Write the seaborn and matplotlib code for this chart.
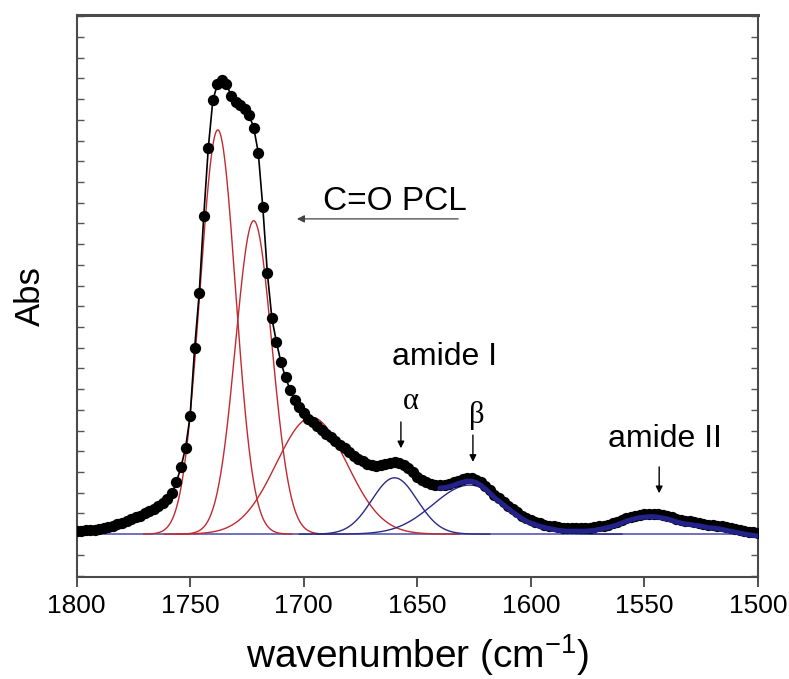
import numpy as np
import pandas as pd
import matplotlib
matplotlib.use("Agg")
import matplotlib.pyplot as plt
import matplotlib.transforms as mtransforms
from matplotlib.ticker import MultipleLocator, NullFormatter
import seaborn as sns

wavenumber = [
    1800, 1798, 1796, 1794, 1792, 1790, 1788, 1786, 1784, 1782,
    1780, 1778, 1776, 1774, 1772, 1770, 1768, 1766, 1764, 1762,
    1760, 1758, 1756, 1754, 1752, 1750, 1748, 1746, 1744, 1742,
    1740, 1738, 1736, 1734, 1732, 1730, 1728, 1726, 1724, 1722,
    1720, 1718, 1716, 1714, 1712, 1710, 1708, 1706, 1704, 1702,
    1700, 1698, 1696, 1694, 1692, 1690, 1688, 1686, 1684, 1682,
    1680, 1678, 1676, 1674, 1672, 1670, 1668, 1666, 1664, 1662,
    1660, 1658, 1656, 1654, 1652, 1650, 1648, 1646, 1644, 1642,
    1640, 1638, 1636, 1634, 1632, 1630, 1628, 1626, 1624, 1622,
    1620, 1618, 1616, 1614, 1612, 1610, 1608, 1606, 1604, 1602,
    1600, 1598, 1596, 1594, 1592, 1590, 1588, 1586, 1584, 1582,
    1580, 1578, 1576, 1574, 1572, 1570, 1568, 1566, 1564, 1562,
    1560, 1558, 1556, 1554, 1552, 1550, 1548, 1546, 1544, 1542,
    1540, 1538, 1536, 1534, 1532, 1530, 1528, 1526, 1524, 1522,
    1520, 1518, 1516, 1514, 1512, 1510, 1508, 1506, 1504, 1502,
    1500,
]
absorbance = [
    0.006, 0.007, 0.008, 0.009, 0.010, 0.012, 0.014, 0.016, 0.019, 0.022,
    0.025, 0.029, 0.033, 0.037, 0.041, 0.046, 0.051, 0.056, 0.062, 0.069,
    0.078, 0.090, 0.115, 0.148, 0.190, 0.260, 0.410, 0.530, 0.700, 0.850,
    0.955, 0.990, 1.000, 0.992, 0.965, 0.952, 0.944, 0.935, 0.922, 0.895,
    0.840, 0.720, 0.575, 0.475, 0.423, 0.378, 0.345, 0.318, 0.296, 0.279,
    0.266, 0.253, 0.246, 0.238, 0.229, 0.221, 0.213, 0.205, 0.197, 0.189,
    0.181, 0.173, 0.166, 0.160, 0.155, 0.152, 0.151, 0.153, 0.155, 0.157,
    0.158, 0.157, 0.153, 0.146, 0.136, 0.126, 0.119, 0.114, 0.111, 0.109,
    0.108, 0.109, 0.111, 0.114, 0.118, 0.121, 0.123, 0.123, 0.120, 0.114,
    0.106, 0.097, 0.087, 0.079, 0.071, 0.063, 0.055, 0.048, 0.041, 0.035,
    0.031, 0.027, 0.024, 0.021, 0.019, 0.017, 0.015, 0.014, 0.013, 0.013,
    0.013, 0.013, 0.013, 0.014, 0.015, 0.017, 0.019, 0.021, 0.024, 0.027,
    0.031, 0.035, 0.038, 0.041, 0.043, 0.044, 0.045, 0.045, 0.044, 0.042,
    0.040, 0.037, 0.034, 0.031, 0.029, 0.028, 0.026, 0.025, 0.023, 0.021,
    0.020, 0.019, 0.017, 0.015, 0.013, 0.011, 0.009, 0.007, 0.005, 0.004,
    0.002,
]

# deconvolved gaussian bands: C=O (red) and amide I alpha / beta (blue)
band_center = [1737.8, 1722.0, 1696.5, 1660.0, 1627.0]
band_height = [0.89, 0.69, 0.257, 0.124, 0.108]
band_sigma = [7.8, 8.0, 15.5, 10.0, 16.0]
band_group = ["C=O", "C=O", "C=O", "amide", "amide"]

spec = pd.DataFrame({"wavenumber": wavenumber, "absorbance": absorbance})

sns.set_theme(style="white")
plt.rcParams["font.family"] = ["Liberation Sans", "DejaVu Sans"]
plt.rcParams["mathtext.fontset"] = "custom"
plt.rcParams["mathtext.rm"] = "Liberation Sans"
plt.rcParams["mathtext.default"] = "regular"
plt.rcParams["text.color"] = "black"
plt.rcParams["axes.labelcolor"] = "black"

fig = plt.figure(figsize=(7.89, 6.79), dpi=100)
ax = fig.add_axes([0.097, 0.150, 0.8637, 0.828])

red = "#c22a30"
blue = "#2b2b86"
base_blue = "#6464b8"

# baseline
ax.axhline(0, color=base_blue, lw=1.3, zorder=1)

# component bands
for c, h, s, g in zip(band_center, band_height, band_sigma, band_group):
    xs = np.linspace(c - 4.2 * s, c + 4.2 * s, 400)
    ys = h * np.exp(-(xs - c) ** 2 / (2 * s ** 2))
    sns.lineplot(x=xs, y=ys, ax=ax, color=red if g == "C=O" else blue,
                 lw=1.0, zorder=2)

# fitted envelope, C=O region in black
sns.lineplot(data=spec[spec["wavenumber"] >= 1636], x="wavenumber",
             y="absorbance", ax=ax, color="black", lw=1.2, zorder=3)

# measured points
sns.scatterplot(data=spec, x="wavenumber", y="absorbance", ax=ax,
                color="black", s=66, linewidth=0, zorder=4)

# amide fit in blue, sitting on the lower edge of the points
sns.lineplot(data=spec[spec["wavenumber"] <= 1640], x="wavenumber",
             y="absorbance", ax=ax, color="#22228a", lw=3.6, zorder=5)
ax.lines[-1].set_transform(
    mtransforms.offset_copy(ax.transData, fig=fig, x=0, y=-3, units="dots"))

ax.set_xlim(1800, 1500)
ax.set_ylim(-0.0947, 1.143)

ax.xaxis.set_major_locator(MultipleLocator(50))
ax.xaxis.set_minor_locator(MultipleLocator(10))
ax.yaxis.set_major_locator(MultipleLocator(0.0456))
ax.yaxis.set_major_formatter(NullFormatter())
ax.tick_params(axis="x", which="major", direction="out", length=7, width=1.2,
               labelsize=19, colors="#333333", labelcolor="black", pad=5)
ax.tick_params(axis="x", which="minor", direction="out", length=4, width=1.0,
               colors="#333333")
ax.tick_params(axis="y", which="major", direction="in", length=5, width=1.0,
               left=True, right=True, colors="#555555")
ax.tick_params(bottom=True, top=False)

for side in ["left", "right", "bottom", "top"]:
    ax.spines[side].set_color("#4a4a4a")
    ax.spines[side].set_linewidth(1.5)
ax.spines["top"].set_linewidth(2.2)

ax.set_xlabel("wavenumber (cm$^{-1}$)", fontsize=28, labelpad=10)
ax.set_ylabel("Abs", fontsize=25, labelpad=18)

# annotations
ax.text(1691.4, 0.714, "C=O PCL", fontsize=24, ha="left", va="baseline")
ax.annotate("", xy=(1703.0, 0.694), xytext=(1632.0, 0.694),
            arrowprops=dict(arrowstyle="-|>", color="#444444", lw=0.9,
                            mutation_scale=11, shrinkA=0, shrinkB=0))

ax.text(1661.1, 0.372, "amide I", fontsize=23, ha="left", va="baseline")
ax.text(1652.8, 0.291, "\u03b1", fontsize=22, ha="center", va="center",
        family=["Liberation Serif", "DejaVu Serif"])
ax.annotate("", xy=(1657.2, 0.189), xytext=(1657.2, 0.247),
            arrowprops=dict(arrowstyle="-|>", color="black", lw=1.0,
                            mutation_scale=10, shrinkA=0, shrinkB=0))

ax.text(1623.7, 0.262, "\u03b2", fontsize=22, ha="center", va="center",
        family=["Liberation Serif", "DejaVu Serif"])
ax.annotate("", xy=(1625.5, 0.159), xytext=(1625.5, 0.218),
            arrowprops=dict(arrowstyle="-|>", color="black", lw=1.0,
                            mutation_scale=10, shrinkA=0, shrinkB=0))

ax.text(1565.9, 0.192, "amide II", fontsize=23, ha="left", va="baseline")
ax.annotate("", xy=(1543.5, 0.090), xytext=(1543.5, 0.148),
            arrowprops=dict(arrowstyle="-|>", color="black", lw=1.0,
                            mutation_scale=10, shrinkA=0, shrinkB=0))

fig.savefig("out.png", dpi=100)
